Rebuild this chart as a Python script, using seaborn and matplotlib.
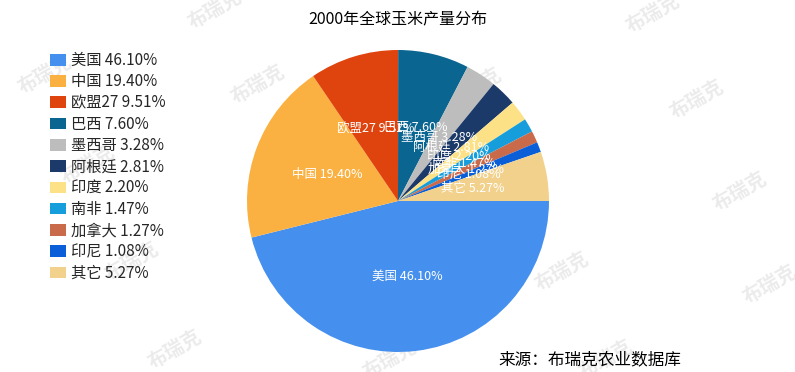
import matplotlib
matplotlib.use("Agg")
import numpy as np
import seaborn as sns
import matplotlib.pyplot as plt

# values (share of world corn output in 2000, %)
countries = ["美国", "中国", "欧盟27", "巴西", "墨西哥", "阿根廷", "印度", "南非", "加拿大", "印尼", "其它"]
shares = [46.10, 19.40, 9.51, 7.60, 3.28, 2.81, 2.20, 1.47, 1.27, 1.08, 5.27]
slice_colors = ["#4590EE", "#FAB141", "#E0440E", "#0B6591", "#BDBDBD", "#1C3A69",
                "#FDE186", "#169EDC", "#C96A4A", "#0A5FD8", "#F2D18C"]

title = "2000年全球玉米产量分布"
source = "来源：布瑞克农业数据库"
watermark = "布瑞克"

sns.set_theme(style="white")
plt.rcParams["font.family"] = ["Noto Sans CJK SC", "DejaVu Sans"]

W, H = 795, 372
fig = plt.figure(figsize=(W / 100, H / 100), dpi=100)
fig.patch.set_facecolor("white")

# faint watermark grid behind everything (pixel positions of the text centres)
wm_spots = [(45, 75), (88, 165), (132, 262), (175, 350),
            (215, 10), (258, 85), (302, 175), (346, 265), (390, 360),
            (475, 88), (518, 180), (562, 272), (606, 360),
            (653, 14), (697, 100), (740, 192), (770, 285)]
for x, y in wm_spots:
    fig.text(x / W, 1 - y / H, watermark, color="#ebebeb", fontsize=14, fontweight="bold",
             rotation=30, ha="center", va="center", zorder=-5)

# pie centre at (398, 201) px, radius 151 px
cx, cy, r = 398, 201, 151
ax = fig.add_axes([(cx - r) / W, (H - cy - r) / H, 2 * r / W, 2 * r / H])
ax.patch.set_visible(False)

palette = sns.color_palette(slice_colors)
wedges, _ = ax.pie(shares, colors=palette, startangle=0, counterclock=False,
                   radius=1, wedgeprops=dict(linewidth=0))
ax.set_xlim(-1, 1)
ax.set_ylim(-1, 1)
ax.set_aspect("equal")
ax.axis("off")

# labels sit inside each slice at half the radius
for w, name, val in zip(wedges, countries, shares):
    mid = np.deg2rad((w.theta1 + w.theta2) / 2)
    ax.text(0.5 * np.cos(mid), 0.5 * np.sin(mid), f"{name} {val:.2f}%",
            color="white", fontsize=9, ha="center", va="center")

fig.legend(wedges, [f"{n} {v:.2f}%" for n, v in zip(countries, shares)],
           loc="upper left", bbox_to_anchor=(50 / W, 1 - 52 / H),
           frameon=False, fontsize=11, handlelength=1.05, handleheight=0.8,
           handletextpad=0.33, labelspacing=0.28, borderpad=0, borderaxespad=0)

fig.text(398 / W, 1 - 20 / H, title, ha="center", va="center", fontsize=11.5, color="black")
fig.text(498 / W, 1 - 360 / H, source, ha="left", va="center", fontsize=12, color="black")

fig.savefig("out.png", dpi=100, facecolor="white")
